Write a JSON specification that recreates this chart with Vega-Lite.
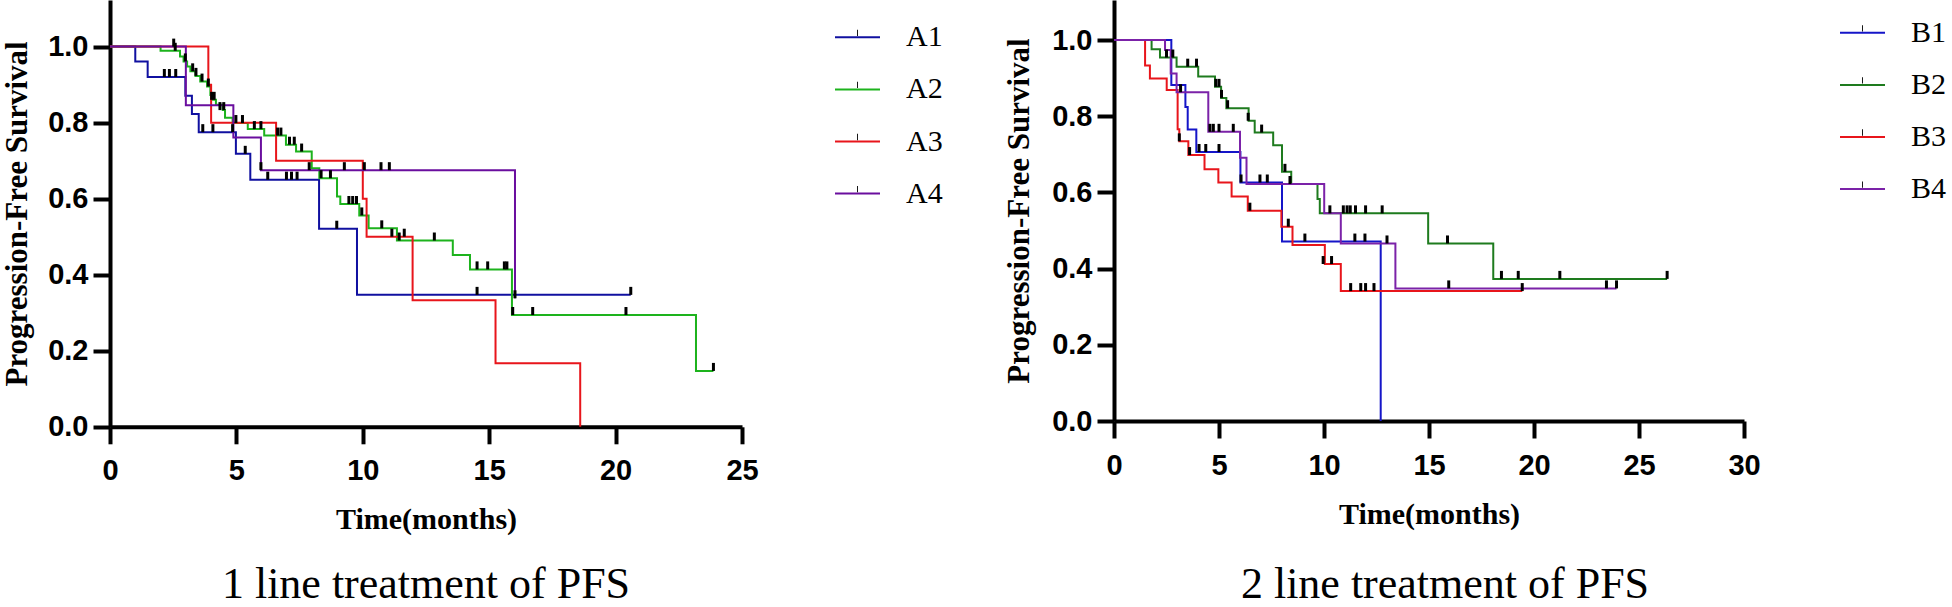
{
  "$schema": "https://vega.github.io/schema/vega-lite/v6.json",
  "padding": {"left": 1, "top": 0, "right": 0, "bottom": 0},
  "background": "white",
  "spacing": 59,
  "config": {
    "view": {"stroke": null},
    "font": "Liberation Serif",
    "axis": {
      "grid": false, "domainColor": "black", "domainWidth": 4, "tickColor": "black", "tickWidth": 4, "tickSize": 17,
      "labelFont": "Liberation Sans", "labelFontWeight": "bold", "labelFontSize": 29, "labelColor": "black",
      "titleFont": "Liberation Serif", "titleFontWeight": "bold", "titleColor": "black",
      "labelFlush": false, "labelOverlap": false
    },
    "legend": {"padding": 0, "labelFont": "Liberation Serif", "labelFontSize": 30, "labelColor": "black", "labelOffset": 25, "rowPadding": 13.1}
  },
  "resolve": {
    "scale": {"x": "independent", "y": "independent", "color": "independent", "opacity": "independent"},
    "legend": {"color": "independent", "opacity": "independent"}
  },
  "datasets": {
    "a_steps": [
      {"group": "A1", "t": 0, "s": 1}, {"group": "A1", "t": 1.0, "s": 0.961}, {"group": "A1", "t": 1.49, "s": 0.92}, {"group": "A1", "t": 2.98, "s": 0.871}, {"group": "A1", "t": 3.24, "s": 0.823}, {"group": "A1", "t": 3.51, "s": 0.775}, {"group": "A1", "t": 4.98, "s": 0.718}, {"group": "A1", "t": 5.55, "s": 0.65}, {"group": "A1", "t": 8.27, "s": 0.521}, {"group": "A1", "t": 9.77, "s": 0.347}, {"group": "A1", "t": 20.6, "s": 0.347},
      {"group": "A2", "t": 0, "s": 1}, {"group": "A2", "t": 2.0, "s": 0.989}, {"group": "A2", "t": 2.77, "s": 0.974}, {"group": "A2", "t": 2.91, "s": 0.961}, {"group": "A2", "t": 3.05, "s": 0.948}, {"group": "A2", "t": 3.18, "s": 0.935}, {"group": "A2", "t": 3.38, "s": 0.923}, {"group": "A2", "t": 3.57, "s": 0.908}, {"group": "A2", "t": 3.84, "s": 0.895}, {"group": "A2", "t": 3.97, "s": 0.873}, {"group": "A2", "t": 4.06, "s": 0.86}, {"group": "A2", "t": 4.19, "s": 0.847}, {"group": "A2", "t": 4.46, "s": 0.833}, {"group": "A2", "t": 4.55, "s": 0.813}, {"group": "A2", "t": 4.85, "s": 0.799}, {"group": "A2", "t": 5.45, "s": 0.783}, {"group": "A2", "t": 6.1, "s": 0.766}, {"group": "A2", "t": 6.96, "s": 0.742}, {"group": "A2", "t": 7.36, "s": 0.724}, {"group": "A2", "t": 7.98, "s": 0.68}, {"group": "A2", "t": 8.28, "s": 0.654}, {"group": "A2", "t": 8.98, "s": 0.606}, {"group": "A2", "t": 9.11, "s": 0.586}, {"group": "A2", "t": 9.86, "s": 0.556}, {"group": "A2", "t": 10.23, "s": 0.522}, {"group": "A2", "t": 11.35, "s": 0.49}, {"group": "A2", "t": 13.56, "s": 0.452}, {"group": "A2", "t": 14.24, "s": 0.414}, {"group": "A2", "t": 15.9, "s": 0.294}, {"group": "A2", "t": 23.18, "s": 0.147}, {"group": "A2", "t": 23.87, "s": 0.147},
      {"group": "A3", "t": 0, "s": 1}, {"group": "A3", "t": 3.89, "s": 0.9}, {"group": "A3", "t": 4.0, "s": 0.8}, {"group": "A3", "t": 6.57, "s": 0.7}, {"group": "A3", "t": 10.0, "s": 0.6}, {"group": "A3", "t": 10.15, "s": 0.5}, {"group": "A3", "t": 11.97, "s": 0.333}, {"group": "A3", "t": 15.25, "s": 0.167}, {"group": "A3", "t": 18.6, "s": 0},
      {"group": "A4", "t": 0, "s": 1}, {"group": "A4", "t": 3.0, "s": 0.846}, {"group": "A4", "t": 4.88, "s": 0.761}, {"group": "A4", "t": 5.97, "s": 0.675}, {"group": "A4", "t": 16.02, "s": 0.338}
    ],
    "a_cens": [
      {"grp": "A1", "t": 2.15, "s": 0.92}, {"grp": "A1", "t": 2.35, "s": 0.92}, {"grp": "A1", "t": 2.6, "s": 0.92}, {"grp": "A1", "t": 3.67, "s": 0.775}, {"grp": "A1", "t": 4.07, "s": 0.775}, {"grp": "A1", "t": 4.85, "s": 0.775}, {"grp": "A1", "t": 5.35, "s": 0.718}, {"grp": "A1", "t": 6.24, "s": 0.65}, {"grp": "A1", "t": 6.98, "s": 0.65}, {"grp": "A1", "t": 7.18, "s": 0.65}, {"grp": "A1", "t": 7.4, "s": 0.65}, {"grp": "A1", "t": 8.97, "s": 0.521}, {"grp": "A1", "t": 14.52, "s": 0.347}, {"grp": "A1", "t": 20.6, "s": 0.347},
      {"grp": "A2", "t": 2.58, "s": 0.989}, {"grp": "A2", "t": 2.98, "s": 0.961}, {"grp": "A2", "t": 3.27, "s": 0.935}, {"grp": "A2", "t": 3.4, "s": 0.923}, {"grp": "A2", "t": 3.64, "s": 0.908}, {"grp": "A2", "t": 3.89, "s": 0.895}, {"grp": "A2", "t": 4.02, "s": 0.86}, {"grp": "A2", "t": 4.12, "s": 0.86}, {"grp": "A2", "t": 4.35, "s": 0.833}, {"grp": "A2", "t": 4.5, "s": 0.833}, {"grp": "A2", "t": 4.98, "s": 0.799}, {"grp": "A2", "t": 5.24, "s": 0.799}, {"grp": "A2", "t": 5.71, "s": 0.783}, {"grp": "A2", "t": 5.97, "s": 0.783}, {"grp": "A2", "t": 6.63, "s": 0.766}, {"grp": "A2", "t": 6.76, "s": 0.766}, {"grp": "A2", "t": 7.1, "s": 0.742}, {"grp": "A2", "t": 7.29, "s": 0.742}, {"grp": "A2", "t": 7.58, "s": 0.724}, {"grp": "A2", "t": 8.35, "s": 0.654}, {"grp": "A2", "t": 8.72, "s": 0.654}, {"grp": "A2", "t": 9.45, "s": 0.586}, {"grp": "A2", "t": 9.6, "s": 0.586}, {"grp": "A2", "t": 9.75, "s": 0.586}, {"grp": "A2", "t": 9.96, "s": 0.556}, {"grp": "A2", "t": 10.75, "s": 0.522}, {"grp": "A2", "t": 11.44, "s": 0.49}, {"grp": "A2", "t": 12.83, "s": 0.49}, {"grp": "A2", "t": 14.52, "s": 0.414}, {"grp": "A2", "t": 14.94, "s": 0.414}, {"grp": "A2", "t": 15.6, "s": 0.414}, {"grp": "A2", "t": 15.7, "s": 0.414}, {"grp": "A2", "t": 15.93, "s": 0.294}, {"grp": "A2", "t": 16.72, "s": 0.294}, {"grp": "A2", "t": 20.41, "s": 0.294}, {"grp": "A2", "t": 23.87, "s": 0.147},
      {"grp": "A3", "t": 2.52, "s": 1.0}, {"grp": "A3", "t": 11.15, "s": 0.5}, {"grp": "A3", "t": 11.64, "s": 0.5},
      {"grp": "A4", "t": 5.97, "s": 0.675}, {"grp": "A4", "t": 7.88, "s": 0.675}, {"grp": "A4", "t": 9.27, "s": 0.675}, {"grp": "A4", "t": 10.06, "s": 0.675}, {"grp": "A4", "t": 10.72, "s": 0.675}, {"grp": "A4", "t": 11.05, "s": 0.675}, {"grp": "A4", "t": 16.02, "s": 0.338}
    ],
    "b_steps": [
      {"group": "B1", "t": 0, "s": 1}, {"group": "B1", "t": 2.73, "s": 0.882}, {"group": "B1", "t": 3.4, "s": 0.824}, {"group": "B1", "t": 3.51, "s": 0.765}, {"group": "B1", "t": 3.92, "s": 0.706}, {"group": "B1", "t": 6.02, "s": 0.626}, {"group": "B1", "t": 8.0, "s": 0.471}, {"group": "B1", "t": 12.7, "s": 0},
      {"group": "B2", "t": 0, "s": 1}, {"group": "B2", "t": 1.79, "s": 0.976}, {"group": "B2", "t": 2.19, "s": 0.954}, {"group": "B2", "t": 2.98, "s": 0.93}, {"group": "B2", "t": 4.01, "s": 0.904}, {"group": "B2", "t": 4.81, "s": 0.877}, {"group": "B2", "t": 5.1, "s": 0.848}, {"group": "B2", "t": 5.35, "s": 0.821}, {"group": "B2", "t": 6.41, "s": 0.788}, {"group": "B2", "t": 6.7, "s": 0.757}, {"group": "B2", "t": 7.58, "s": 0.724}, {"group": "B2", "t": 8.0, "s": 0.654}, {"group": "B2", "t": 8.44, "s": 0.622}, {"group": "B2", "t": 9.69, "s": 0.583}, {"group": "B2", "t": 9.8, "s": 0.545}, {"group": "B2", "t": 14.96, "s": 0.466}, {"group": "B2", "t": 18.06, "s": 0.373}, {"group": "B2", "t": 26.34, "s": 0.373},
      {"group": "B3", "t": 0, "s": 1}, {"group": "B3", "t": 1.48, "s": 0.933}, {"group": "B3", "t": 1.71, "s": 0.899}, {"group": "B3", "t": 2.51, "s": 0.869}, {"group": "B3", "t": 3.03, "s": 0.766}, {"group": "B3", "t": 3.11, "s": 0.734}, {"group": "B3", "t": 3.54, "s": 0.698}, {"group": "B3", "t": 4.31, "s": 0.661}, {"group": "B3", "t": 4.97, "s": 0.626}, {"group": "B3", "t": 5.6, "s": 0.589}, {"group": "B3", "t": 6.37, "s": 0.552}, {"group": "B3", "t": 7.97, "s": 0.51}, {"group": "B3", "t": 8.5, "s": 0.462}, {"group": "B3", "t": 10.04, "s": 0.412}, {"group": "B3", "t": 10.8, "s": 0.341}, {"group": "B3", "t": 19.44, "s": 0.341},
      {"group": "B4", "t": 0, "s": 1}, {"group": "B4", "t": 2.43, "s": 0.974}, {"group": "B4", "t": 2.7, "s": 0.912}, {"group": "B4", "t": 2.98, "s": 0.863}, {"group": "B4", "t": 4.49, "s": 0.759}, {"group": "B4", "t": 6.0, "s": 0.691}, {"group": "B4", "t": 6.31, "s": 0.622}, {"group": "B4", "t": 10.01, "s": 0.545}, {"group": "B4", "t": 10.8, "s": 0.466}, {"group": "B4", "t": 13.4, "s": 0.348}, {"group": "B4", "t": 23.93, "s": 0.348}
    ],
    "b_cens": [
      {"grp": "B1", "t": 4.05, "s": 0.706}, {"grp": "B1", "t": 4.37, "s": 0.706}, {"grp": "B1", "t": 5.0, "s": 0.706}, {"grp": "B1", "t": 6.05, "s": 0.626}, {"grp": "B1", "t": 6.95, "s": 0.626}, {"grp": "B1", "t": 7.3, "s": 0.626}, {"grp": "B1", "t": 9.09, "s": 0.471}, {"grp": "B1", "t": 11.47, "s": 0.471}, {"grp": "B1", "t": 11.95, "s": 0.471},
      {"grp": "B2", "t": 2.5, "s": 0.954}, {"grp": "B2", "t": 2.8, "s": 0.954}, {"grp": "B2", "t": 3.51, "s": 0.93}, {"grp": "B2", "t": 3.93, "s": 0.93}, {"grp": "B2", "t": 4.85, "s": 0.877}, {"grp": "B2", "t": 5.0, "s": 0.877}, {"grp": "B2", "t": 5.12, "s": 0.848}, {"grp": "B2", "t": 5.41, "s": 0.821}, {"grp": "B2", "t": 6.39, "s": 0.788}, {"grp": "B2", "t": 7.03, "s": 0.757}, {"grp": "B2", "t": 8.14, "s": 0.654}, {"grp": "B2", "t": 8.38, "s": 0.622}, {"grp": "B2", "t": 10.28, "s": 0.545}, {"grp": "B2", "t": 10.92, "s": 0.545}, {"grp": "B2", "t": 11.1, "s": 0.545}, {"grp": "B2", "t": 11.25, "s": 0.545}, {"grp": "B2", "t": 11.5, "s": 0.545}, {"grp": "B2", "t": 11.98, "s": 0.545}, {"grp": "B2", "t": 12.77, "s": 0.545}, {"grp": "B2", "t": 15.88, "s": 0.466}, {"grp": "B2", "t": 18.45, "s": 0.373}, {"grp": "B2", "t": 19.25, "s": 0.373}, {"grp": "B2", "t": 21.23, "s": 0.373}, {"grp": "B2", "t": 26.34, "s": 0.373},
      {"grp": "B3", "t": 3.11, "s": 0.734}, {"grp": "B3", "t": 3.6, "s": 0.698}, {"grp": "B3", "t": 6.47, "s": 0.552}, {"grp": "B3", "t": 8.3, "s": 0.51}, {"grp": "B3", "t": 9.96, "s": 0.412}, {"grp": "B3", "t": 10.36, "s": 0.412}, {"grp": "B3", "t": 11.27, "s": 0.341}, {"grp": "B3", "t": 11.75, "s": 0.341}, {"grp": "B3", "t": 11.98, "s": 0.341}, {"grp": "B3", "t": 12.38, "s": 0.341}, {"grp": "B3", "t": 19.44, "s": 0.341},
      {"grp": "B4", "t": 3.17, "s": 0.863}, {"grp": "B4", "t": 4.57, "s": 0.759}, {"grp": "B4", "t": 4.73, "s": 0.759}, {"grp": "B4", "t": 5.0, "s": 0.759}, {"grp": "B4", "t": 5.68, "s": 0.759}, {"grp": "B4", "t": 13.0, "s": 0.466}, {"grp": "B4", "t": 15.94, "s": 0.348}, {"grp": "B4", "t": 23.45, "s": 0.348}, {"grp": "B4", "t": 23.93, "s": 0.348}
    ]
  },
  "hconcat": [
    {
      "width": 632,
      "height": 426.8,
      "title": {"text": "1 line treatment of PFS", "orient": "bottom", "anchor": "middle", "font": "Liberation Serif", "fontSize": 44, "fontWeight": "normal", "color": "black", "offset": 28},
      "layer": [
        {
          "data": {"name": "a_steps"},
          "mark": {"type": "line", "interpolate": "step-after", "strokeWidth": 2},
          "encoding": {
            "x": {"field": "t", "type": "quantitative", "scale": {"domain": [0, 25], "nice": false, "zero": true},
                  "axis": {"values": [0, 5, 10, 15, 20, 25], "title": "Time(months)", "titleFontSize": 30, "titleY": 93, "titleBaseline": "middle", "labelPadding": 13}},
            "y": {"field": "s", "type": "quantitative", "scale": {"domain": [0, 1.1226], "nice": false},
                  "axis": {"values": [0, 0.2, 0.4, 0.6, 0.8, 1.0], "format": ".1f", "title": "Progression-Free Survival", "titleFontSize": 31, "titleX": -77, "titleBaseline": "bottom", "labelPadding": 5}},
            "color": {"field": "group", "type": "nominal",
                      "scale": {"domain": ["A1", "A2", "A3", "A4"], "range": ["#1010a0", "#1db31d", "#e8151b", "#6a0e9e"]},
                      "legend": {"orient": "none", "legendX": 724, "legendY": 13.8, "title": null, "symbolType": "stroke", "symbolSize": 2025, "symbolStrokeWidth": 2}}
          }
        },
        {
          "data": {"name": "a_cens"},
          "mark": {"type": "tick", "orient": "vertical", "color": "black", "thickness": 3, "size": 8, "yOffset": -4},
          "encoding": {
            "x": {"field": "t", "type": "quantitative"},
            "y": {"field": "s", "type": "quantitative"},
            "opacity": {"field": "grp", "type": "ordinal", "scale": {"range": [1, 1, 1, 1]},
                        "legend": {"orient": "none", "legendX": 724, "legendY": 13.8, "title": null, "symbolType": "M-0.02,-0.34H0.02V-0.06H-0.02Z", "symbolSize": 2025, "symbolFillColor": "black", "symbolStrokeColor": "black", "symbolStrokeWidth": 2, "labelOpacity": 0, "labelOffset": -70}}
          }
        }
      ]
    },
    {
      "width": 630,
      "height": 421,
      "title": {"text": "2 line treatment of PFS", "orient": "bottom", "anchor": "middle", "font": "Liberation Serif", "fontSize": 44, "fontWeight": "normal", "color": "black", "offset": 34, "dx": 16},
      "layer": [
        {
          "data": {"name": "b_steps"},
          "mark": {"type": "line", "interpolate": "step-after", "strokeWidth": 2},
          "encoding": {
            "x": {"field": "t", "type": "quantitative", "scale": {"domain": [0, 30], "nice": false, "zero": true},
                  "axis": {"values": [0, 5, 10, 15, 20, 25, 30], "title": "Time(months)", "titleFontSize": 30, "titleY": 93, "titleBaseline": "middle", "labelPadding": 13}},
            "y": {"field": "s", "type": "quantitative", "scale": {"domain": [0, 1.105], "nice": false},
                  "axis": {"values": [0, 0.2, 0.4, 0.6, 0.8, 1.0], "format": ".1f", "title": "Progression-Free Survival", "titleFontSize": 31, "titleX": -79, "titleBaseline": "bottom", "labelPadding": 5}},
            "color": {"field": "group", "type": "nominal",
                      "scale": {"domain": ["B1", "B2", "B3", "B4"], "range": ["#1515c8", "#1e7b1e", "#e8151b", "#7b22a8"]},
                      "legend": {"orient": "none", "legendX": 725, "legendY": 9.3, "title": null, "symbolType": "stroke", "symbolSize": 2025, "symbolStrokeWidth": 2}}
          }
        },
        {
          "data": {"name": "b_cens"},
          "mark": {"type": "tick", "orient": "vertical", "color": "black", "thickness": 3, "size": 8, "yOffset": -4},
          "encoding": {
            "x": {"field": "t", "type": "quantitative"},
            "y": {"field": "s", "type": "quantitative"},
            "opacity": {"field": "grp", "type": "ordinal", "scale": {"range": [1, 1, 1, 1]},
                        "legend": {"orient": "none", "legendX": 725, "legendY": 9.3, "title": null, "symbolType": "M-0.02,-0.34H0.02V-0.06H-0.02Z", "symbolSize": 2025, "symbolFillColor": "black", "symbolStrokeColor": "black", "symbolStrokeWidth": 2, "labelOpacity": 0, "labelOffset": -70}}
          }
        }
      ]
    }
  ]
}
